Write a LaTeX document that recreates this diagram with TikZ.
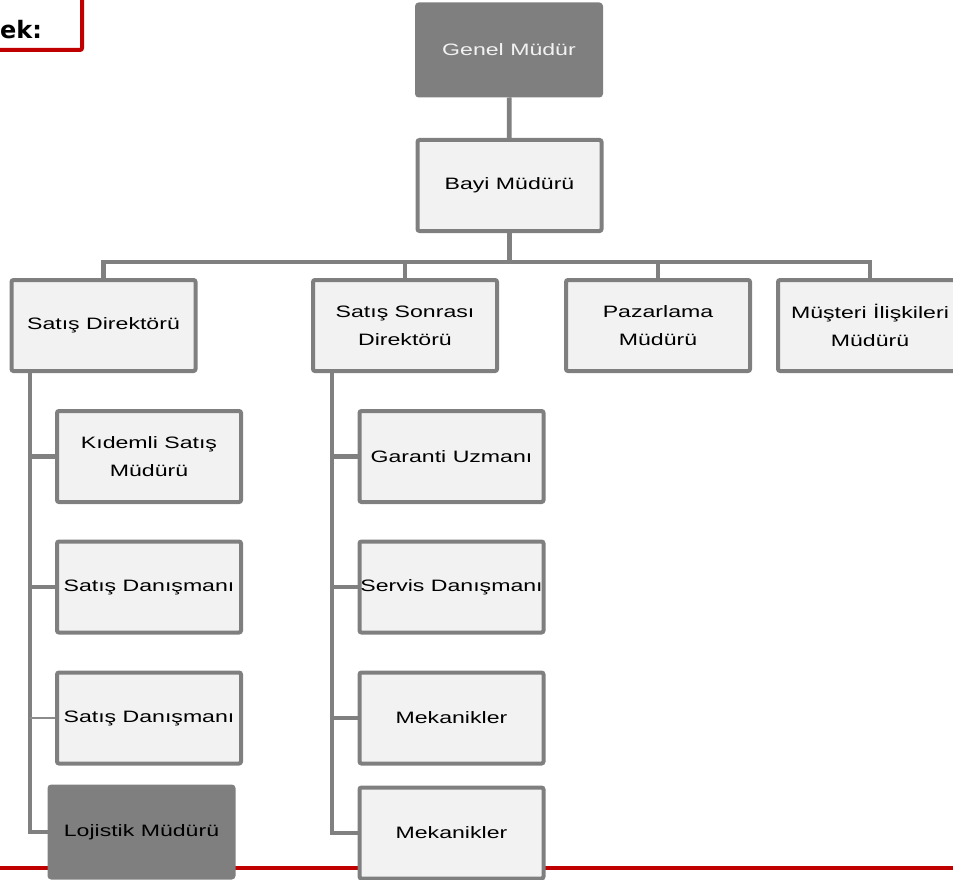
\documentclass[tikz,border=0pt]{standalone}
\usepackage{fontspec}
\setmainfont{Liberation Sans}[FakeStretch=1.4]
\newfontfamily\ekfont{DejaVu Sans}
\definecolor{boxgray}{HTML}{7F7F7F}
\definecolor{boxfill}{HTML}{F2F2F2}
\definecolor{linegray}{HTML}{808080}
\definecolor{thingray}{HTML}{8C8C8C}
\definecolor{darkred}{HTML}{C00000}
\tikzset{
  orgbox/.style={draw=boxgray, fill=boxfill, line width=4pt, rounded corners=2pt,
    minimum width=184pt, minimum height=91pt, inner sep=0pt, align=center,
    font=\fontsize{16.5}{28}\selectfont, text=black},
  darkbox/.style={orgbox, fill=boxgray},
  conn/.style={draw=linegray, line width=4.7pt},
  thinconn/.style={draw=thingray, line width=1.5pt},
  redline/.style={draw=darkred, line width=4pt},
}
\begin{document}
\begin{tikzpicture}[x=1pt,y=-1pt]
\useasboundingbox (0,0) rectangle (953,880);
% red rule and label frame
\coordinate (rl) at (0,868);
\coordinate (rr) at (953,868);
\draw[redline] (rl) -- (rr);
\draw[redline, rounded corners=2pt] (-60,-60) rectangle (82,50);
\node[anchor=base west, inner sep=0pt, font=\ekfont\bfseries\fontsize{24}{28}\selectfont] (ek) at (0,39) {ek:};
% boxes
\node[darkbox, text=boxfill] (gm) at (509,50) {Genel Müdür};
\node[orgbox] (bayi) at (509.5,185.5) {Bayi Müdürü};
\node[orgbox] (sd) at (103.5,325.5) {Satış Direktörü};
\node[orgbox] (ssd) at (405,325.5) {Satış Sonrası\\Direktörü};
\node[orgbox] (paz) at (658,325.5) {Pazarlama\\Müdürü};
\node[orgbox] (mus) at (870,325.5) {Müşteri İlişkileri\\Müdürü};
\node[orgbox] (kid) at (149,456.5) {Kıdemli Satış\\Müdürü};
\node[orgbox] (sda1) at (149,587) {Satış Danışmanı};
\node[orgbox] (sda2) at (149,718) {Satış Danışmanı};
\node[darkbox] (loj) at (141.5,832) {Lojistik Müdürü};
\node[orgbox] (gar) at (451.5,456.5) {Garanti Uzmanı};
\node[orgbox] (ser) at (451.5,587) {Servis Danışmanı};
\node[orgbox] (mek1) at (451.5,718) {Mekanikler};
\node[orgbox] (mek2) at (451.5,833) {Mekanikler};
% connectors
\coordinate (bus) at (0,262);
\coordinate (lx) at (30,0);
\coordinate (mx) at (332,0);
\draw[conn] (gm) -- (bayi);
\draw[conn] (bayi.south) -- (bayi.south |- bus);
\draw[conn] (sd.north) -- (sd.north |- bus) -- (mus.north |- bus) -- (mus.north);
\draw[conn] (ssd.north |- bus) -- (ssd.north);
\draw[conn] (paz.north |- bus) -- (paz.north);
% left column
\draw[conn] (sd.south -| lx) -- (lx |- loj.west) -- (loj.west);
\draw[conn] (lx |- kid.west) -- (kid.west);
\draw[conn] (lx |- sda1.west) -- (sda1.west);
\draw[thinconn] (lx |- sda2.west) -- (sda2.west);
% middle column
\draw[conn] (ssd.south -| mx) -- (mx |- mek2.west) -- (mek2.west);
\draw[conn] (mx |- gar.west) -- (gar.west);
\draw[conn] (mx |- ser.west) -- (ser.west);
\draw[conn] (mx |- mek1.west) -- (mek1.west);
\end{tikzpicture}
\end{document}
